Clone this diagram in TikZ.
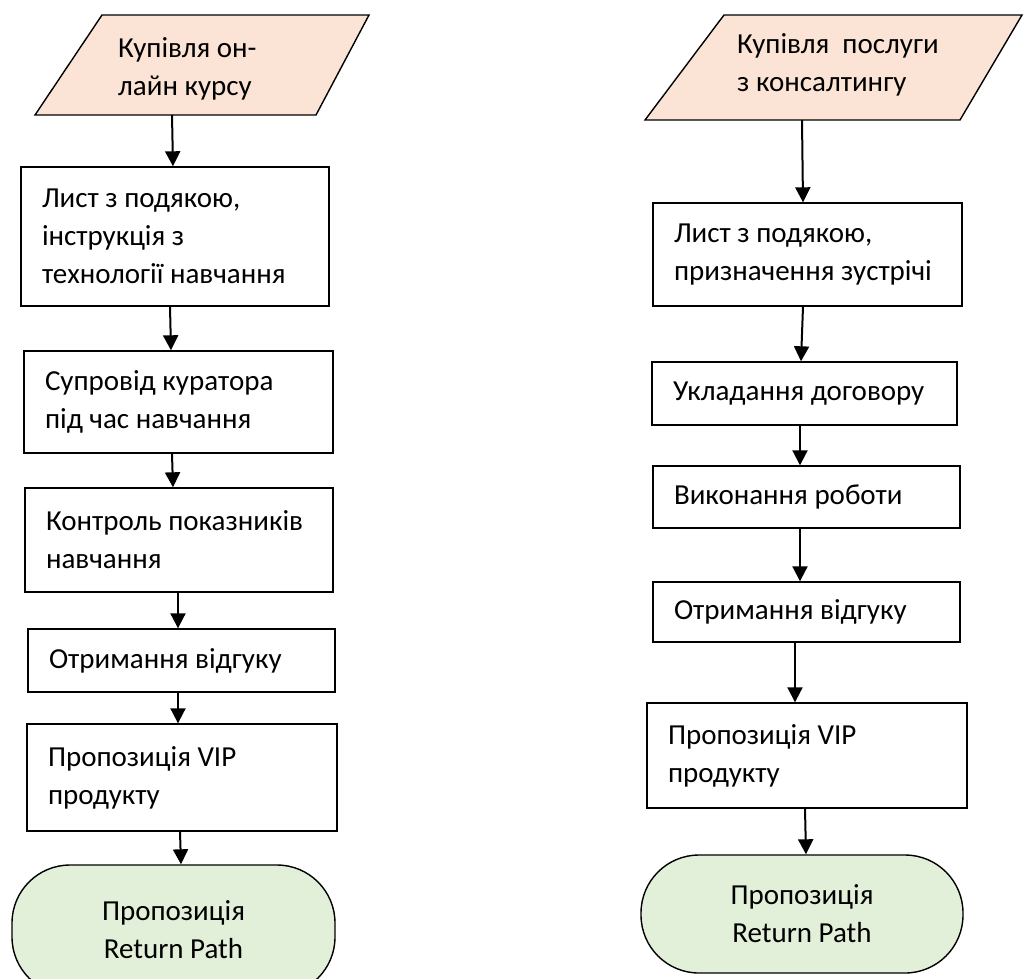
\documentclass[tikz,border=0pt]{standalone}
\usepackage{fontspec}
\setmainfont{Carlito}
\usetikzlibrary{arrows.meta}
\definecolor{peach}{HTML}{FBE4D5}
\definecolor{mint}{HTML}{E2EFD9}
\begin{document}
\begin{tikzpicture}[x=1pt,y=-1pt,
  every node/.style={font=\fontsize{29}{38}\selectfont, execute at begin node={\spaceskip=0pt\xspaceskip=0pt}},
  box/.style={draw, line width=1.4pt, rectangle, inner xsep=21pt, inner ysep=0pt, align=left},
  term/.style={draw, line width=1.4pt, fill=mint, rounded corners=58pt, align=center, inner sep=0pt},
  para/.style={draw, line width=1.4pt, fill=peach, line join=miter},
  ptext/.style={anchor=west, align=left, inner sep=0pt},
  arr/.style={line width=2pt, -{Triangle[width=15pt,length=15pt]}}]
\useasboundingbox (0,0) rectangle (1025,978);

% ---------- left column ----------
\draw[para] (102,15) -- (369,15) -- (316,115) -- (35,115) -- cycle;
\node[ptext] (p1) at (118,69) {Купівля он-\\лайн курсу};
\coordinate (p1b) at (172,115);

\node[box, minimum width=308pt, minimum height=139pt, text width=266pt] (b1) at (175,236.5)
  {Лист з подякою,\\інструкція з\\технології навчання};
\node[box, minimum width=309pt, minimum height=102pt, text width=267pt] (b2) at (178.5,402)
  {Супровід куратора\\під час навчання};
\node[box, minimum width=308pt, minimum height=104pt, text width=266pt] (b3) at (179,540)
  {Контроль показників\\навчання};
\node[box, minimum width=307pt, minimum height=63pt, text width=265pt] (b4) at (181.5,660.5)
  {Отримання відгуку};
\node[box, minimum width=310pt, minimum height=107pt, text width=268pt] (b5) at (182,777.5)
  {Пропозиція VIP\\продукту};
\node[term, minimum width=323pt, minimum height=130pt] (t1) at (173.5,930)
  {Пропозиція\\Return Path};

\draw[arr] (p1b) -- ([xshift=-2pt]b1.north);
\draw[arr] ([xshift=-5pt]b1.south) -- ([xshift=-7.5pt]b2.north);
\draw[arr] ([xshift=-6.5pt]b2.south) -- ([xshift=-6pt]b3.north);
\draw[arr] ([xshift=-1pt]b3.south) -- ([xshift=-3.5pt]b4.north);
\draw[arr] ([xshift=-3.5pt]b4.south) -- ([xshift=-4pt]b5.north);
\draw[arr] ([xshift=-2pt]b5.south) -- ([xshift=7.5pt]t1.north);

% ---------- right column ----------
\draw[para] (724,15) -- (1022,15) -- (960,120) -- (645,120) -- cycle;
\node[ptext] (p2) at (737,65) {Купівля\ \ послуги\\з консалтингу};
\coordinate (p2b) at (802,120);

\node[box, minimum width=309pt, minimum height=103pt, text width=267pt] (r1) at (807.5,254.5)
  {Лист з подякою,\\призначення зустрічі};
\node[box, minimum width=305pt, minimum height=63pt, text width=263pt] (r2) at (804.5,393.5)
  {Укладання договору};
\node[box, minimum width=307pt, minimum height=62pt, text width=265pt] (r3) at (806.5,497)
  {Виконання роботи};
\node[box, minimum width=307pt, minimum height=60pt, text width=265pt] (r4) at (806.5,612)
  {Отримання відгуку};
\node[box, minimum width=320pt, minimum height=105pt, text width=278pt] (r5) at (807,755.5)
  {Пропозиція VIP\\продукту};
\node[term, minimum width=322pt, minimum height=118pt] (t2) at (802,914)
  {Пропозиція\\Return Path};

\draw[arr] (p2b) -- ([xshift=-4.5pt]r1.north);
\draw[arr] ([xshift=-4.5pt]r1.south) -- ([xshift=-3.5pt]r2.north);
\draw[arr] ([xshift=-4.5pt]r2.south) -- ([xshift=-6.5pt]r3.north);
\draw[arr] ([xshift=-6.5pt]r3.south) -- ([xshift=-6.5pt]r4.north);
\draw[arr] ([xshift=-11.5pt]r4.south) -- ([xshift=-12pt]r5.north);
\draw[arr] ([xshift=-2pt]r5.south) -- ([xshift=4pt]t2.north);
\end{tikzpicture}
\end{document}
